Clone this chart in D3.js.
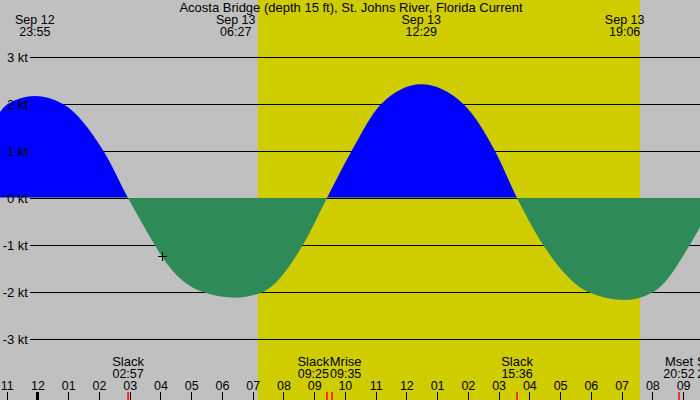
<!DOCTYPE html>
<html>
<head>
<meta charset="UTF-8">
<title>Acosta Bridge current</title>
<script src="https://d3js.org/d3.v7.min.js"></script>
<style>
  body { margin: 0; background: #c0c0c0; }
  svg text { font-family: "Liberation Sans", Arial, sans-serif; font-size: 12.5px; fill: #000; }
</style>
</head>
<body>
<svg id="grafico"></svg>
<script>
// dados (horário local, dia 12 ou 13 de setembro)
const titulo = "Acosta Bridge (depth 15 ft), St. Johns River, Florida Current";
const curvaHoras = ["12 22:47","12 23:02","12 23:55","13 00:50","13 02:09","13 02:57","13 03:49","13 04:03",
  "13 05:23","13 06:27","13 07:20","13 08:38","13 09:25","13 10:13","13 11:11","13 12:29","13 13:51",
  "13 14:53","13 15:36","13 16:27","13 17:55","13 19:06","13 20:02","13 21:13","13 21:33","13 21:58"];
const curvaNos = [1.83, 2.0, 2.17, 2.0, 1.0, 0, -1.0, -1.25, -2.0, -2.12, -2.0, -1.0, 0, 1.0, 2.0, 2.42, 2.0,
  1.0, 0, -1.0, -2.0, -2.17, -2.0, -1.0, -0.61, 0];
const extremosHoras = ["12 23:55", "13 06:27", "13 12:29", "13 19:06"];
const eventosNomes = ["Slack", "Slack", "Mrise", "Slack", "Mset", "Slack"];
const eventosHoras = ["13 02:57", "13 09:25", "13 09:35", "13 15:36", "13 20:52", "13 21:58"];
const nascerSol = "13 07:10";
const porSol = "13 19:36";
const agoraHora = "13 04:03";
const agoraNos = -1.25;
const ticksNos = [-3, -2, -1, 0, 1, 2, 3];
const inicio = "12 22:47", fim = "13 21:33";

const parseBruto = d3.timeParse("%m %d %H:%M");
const parse = s => parseBruto("09 " + s);
const fmtData = d3.timeFormat("%b %d");
const fmtHora = d3.timeFormat("%H:%M");

const largura = 700, altura = 400;
const svg = d3.select("#grafico").attr("width", largura).attr("height", altura);

const escalaX = d3.scaleTime().domain([parse(inicio), parse(fim)]).range([0, largura]);
const escalaY = d3.scaleLinear().domain([-3, 3]).range([339, 57]);

// fundo e período diurno
svg.append("rect").attr("width", largura).attr("height", altura).attr("fill", "#c0c0c0");
svg.append("rect")
  .attr("x", escalaX(parse(nascerSol)))
  .attr("width", escalaX(parse(porSol)) - escalaX(parse(nascerSol)))
  .attr("height", altura)
  .attr("fill", "#cfcc00");

// linhas de grade (debaixo das áreas)
const grade = svg.append("g")
  .attr("transform", "translate(30,0)")
  .call(d3.axisLeft(escalaY).tickValues(ticksNos).tickSize(-670).tickFormat(""));
grade.select(".domain").remove();
grade.selectAll("line").attr("stroke", "#000").attr("shape-rendering", "crispEdges");

// área da corrente
const dados = curvaHoras.map((h, i) => ({ t: parse(h), v: curvaNos[i] }));
const y0 = escalaY(0);
const defs = svg.append("defs");
defs.append("clipPath").attr("id", "acima")
  .append("rect").attr("width", largura).attr("height", y0 - 0.5);
defs.append("clipPath").attr("id", "abaixo")
  .append("rect").attr("y", y0 - 0.5).attr("width", largura).attr("height", altura);

const area = d3.area()
  .x(d => escalaX(d.t))
  .y0(y0)
  .y1(d => escalaY(d.v))
  .curve(d3.curveMonotoneX);

svg.append("path").datum(dados).attr("clip-path", "url(#acima)").attr("fill", "#0000ff").attr("d", area);
svg.append("path").datum(dados).attr("clip-path", "url(#abaixo)").attr("fill", "#2e8b57").attr("d", area);

// rótulos do eixo y (por cima)
const rotulosY = svg.append("g")
  .attr("transform", "translate(30,0)")
  .call(d3.axisLeft(escalaY).tickValues(ticksNos).tickSize(0).tickPadding(2).tickFormat(d => d + " kt"));
rotulosY.select(".domain").remove();
rotulosY.selectAll("text").style("font-size", "13px").attr("fill", "#000");

// marcador da hora atual
const mx = escalaX(parse(agoraHora)), my = escalaY(agoraNos);
svg.append("path")
  .attr("d", `M${mx - 4},${my}H${mx + 5}M${mx + 0.5},${my - 4.5}V${my + 4.5}`)
  .attr("stroke", "#000").attr("stroke-width", 1).attr("shape-rendering", "crispEdges");

// título e extremos
svg.append("text").attr("x", 351).attr("y", 12).attr("text-anchor", "middle")
  .style("font-size", "13px").text(titulo);
extremosHoras.forEach(h => {
  const t = parse(h);
  const g = svg.append("g").attr("text-anchor", "middle");
  g.append("text").attr("x", escalaX(t)).attr("y", 24).text(fmtData(t));
  g.append("text").attr("x", escalaX(t)).attr("y", 36).text(fmtHora(t));
});

// eixo das horas
const eixoHoras = svg.append("g")
  .attr("transform", `translate(0,${altura})`)
  .call(d3.axisTop(escalaX).ticks(d3.timeHour.every(1)).tickSize(8).tickPadding(2).tickFormat(d3.timeFormat("%I")));
eixoHoras.select(".domain").remove();
eixoHoras.selectAll("text").style("font-size", "12.5px").attr("fill", "#000");
eixoHoras.selectAll("line").attr("stroke", "#000").attr("shape-rendering", "crispEdges")
  .attr("stroke-width", d => d.getHours() === 0 ? 3 : 1);

// eventos (estofa, lua)
const eventos = eventosHoras.map((h, i) => ({ t: parse(h), nome: eventosNomes[i] }));
svg.append("g").selectAll("line").data(eventos).enter().append("line")
  .attr("x1", d => escalaX(d.t)).attr("x2", d => escalaX(d.t))
  .attr("y1", 392).attr("y2", altura)
  .attr("stroke", "red").attr("stroke-width", 1.5);

const rotulos = svg.append("g").attr("text-anchor", "middle").selectAll("g").data(eventos).enter().append("g");
rotulos.append("text").attr("y", 366).style("font-size", "13px").text(d => d.nome);
rotulos.append("text").attr("y", 378).text(d => fmtHora(d.t));

// afasta rótulos que se sobrepõem
eventos.forEach(d => { d.cx = escalaX(d.t); });
rotulos.each(function (d) {
  d.w = d3.max(d3.select(this).selectAll("text").nodes(), n => n.getComputedTextLength());
});
for (let i = 1; i < eventos.length; i++) {
  const a = eventos[i - 1], b = eventos[i];
  const min = (a.w + b.w) / 2 + 0.5;
  if (b.cx - a.cx < min) {
    const meio = (a.cx + b.cx) / 2;
    a.cx = meio - min / 2;
    b.cx = meio + min / 2;
  }
}
rotulos.selectAll("text").attr("x", function () { return d3.select(this.parentNode).datum().cx; });
</script>
</body>
</html>
